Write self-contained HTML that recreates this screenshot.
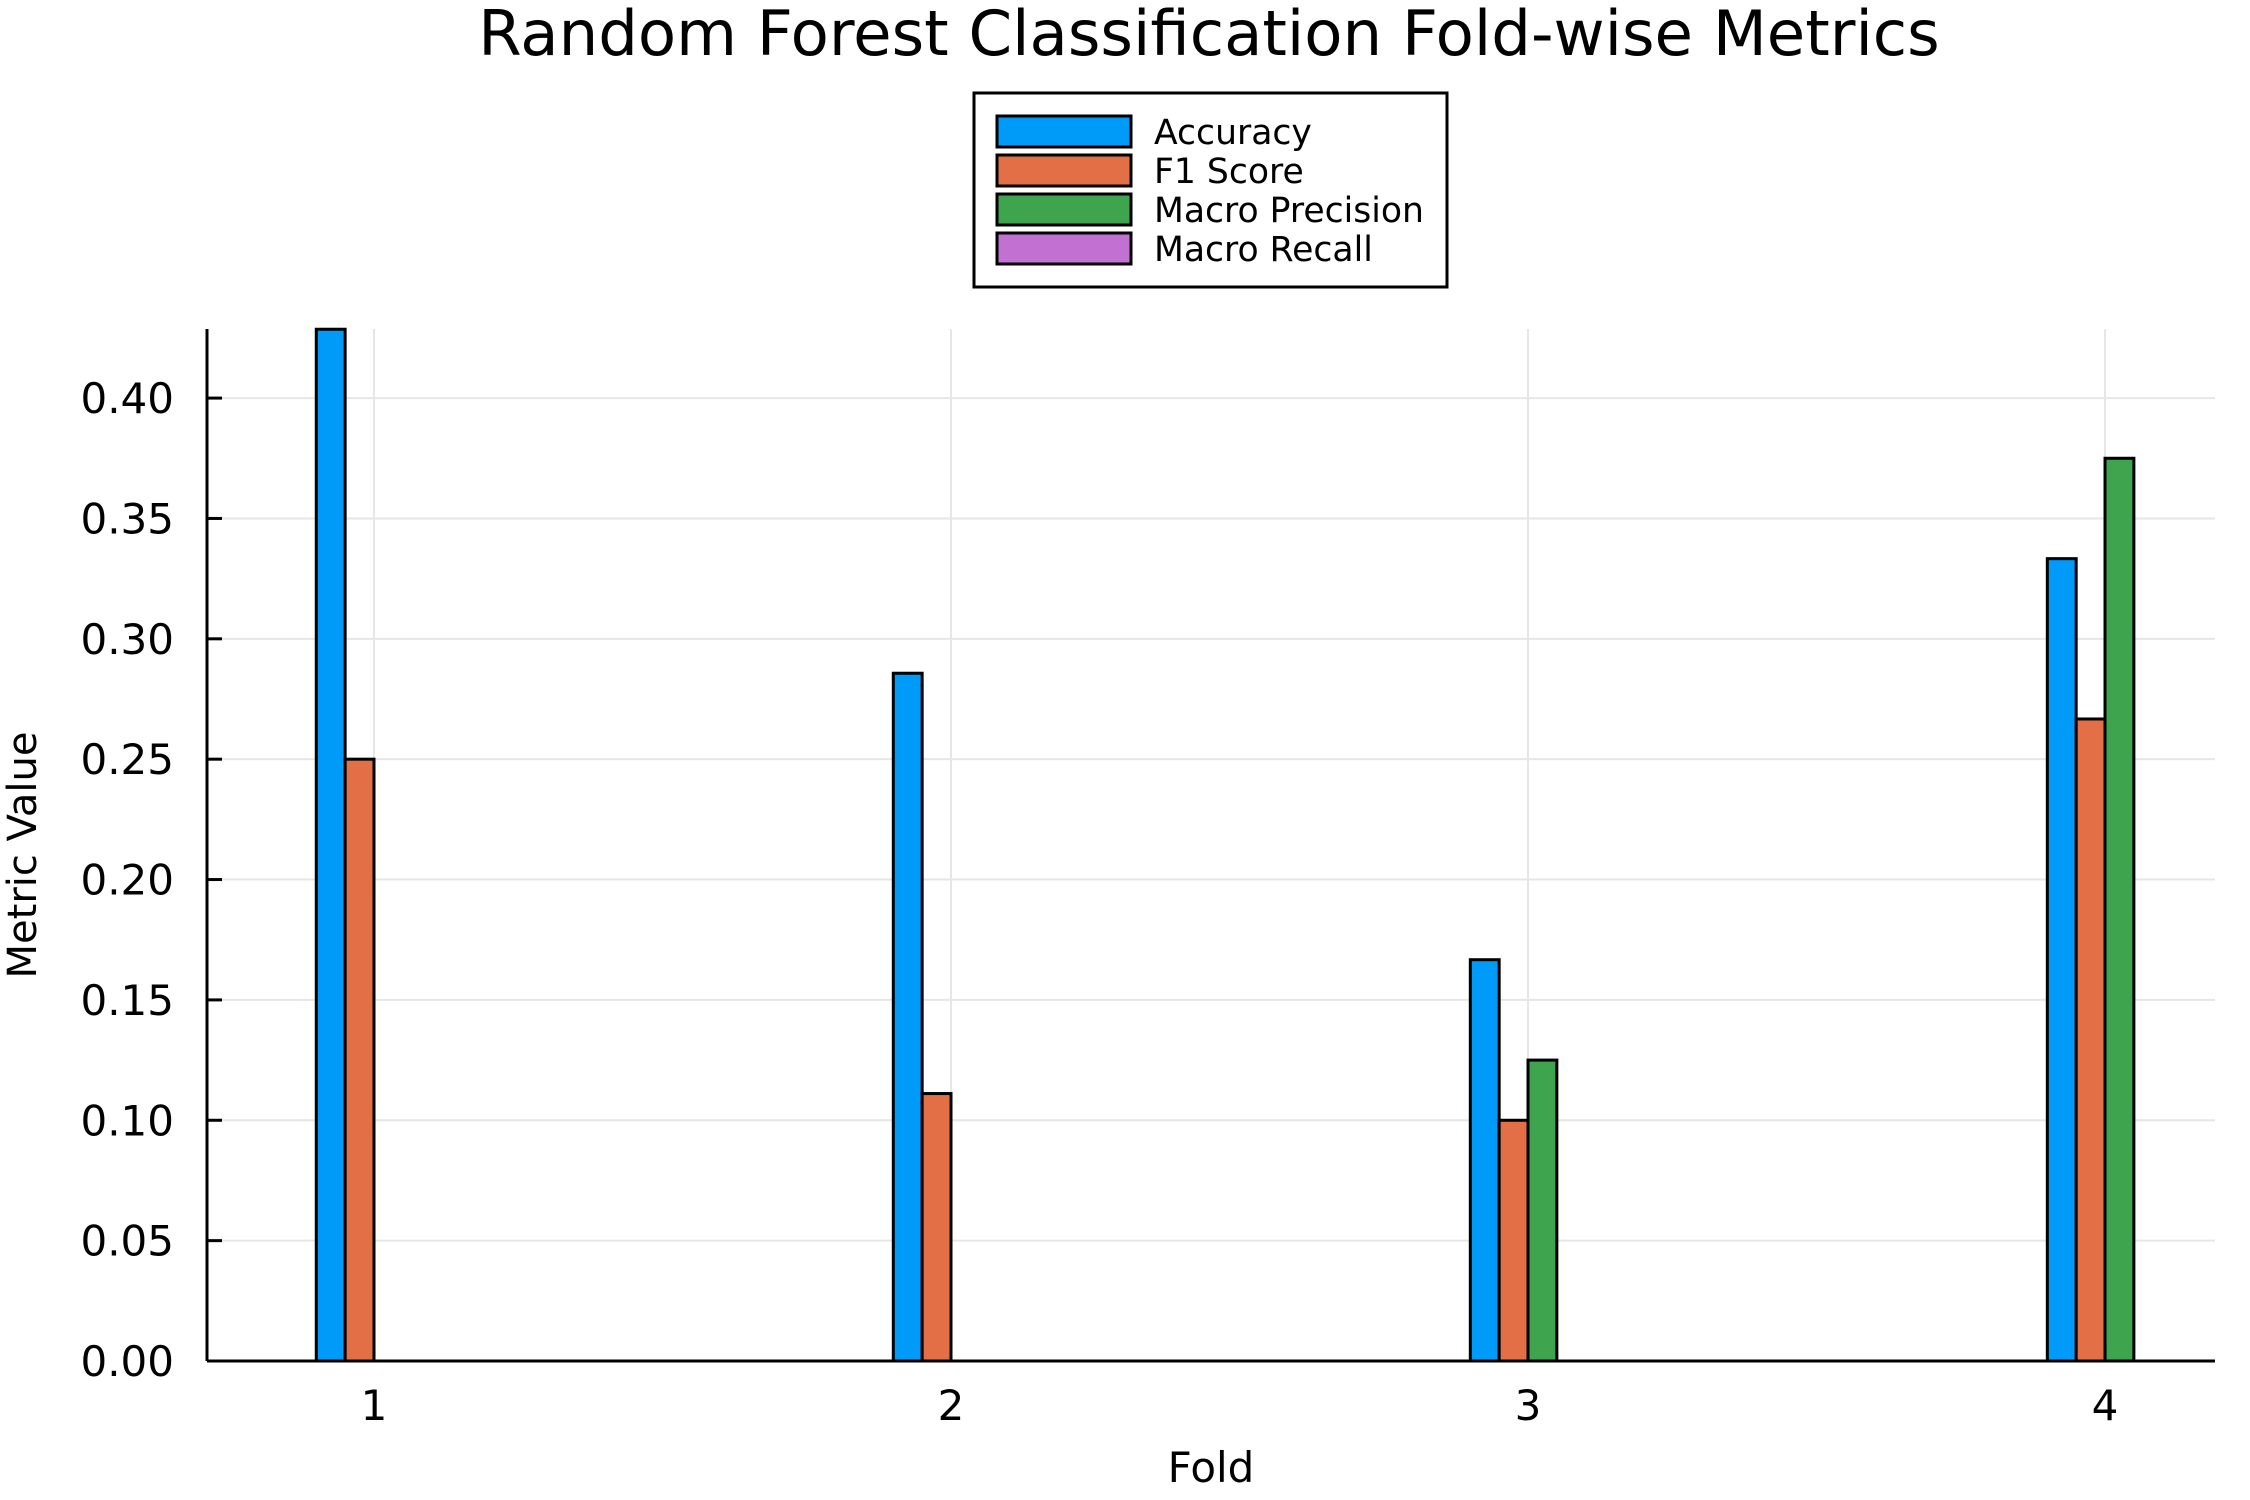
<!DOCTYPE html>
<html><head><meta charset="utf-8"><style>
html,body{margin:0;padding:0;background:#fff;}
svg{display:block;font-family:"DejaVu Sans","Liberation Sans",sans-serif;}
</style></head><body>
<svg id="chart" width="2250" height="1500" viewBox="0 0 2250 1500" xmlns="http://www.w3.org/2000/svg">
<rect width="2250" height="1500" fill="#fff"/>
<text x="1209" y="55" font-size="62.5" text-anchor="middle">Random Forest Classification Fold-wise Metrics</text>
<g id="grid"></g>
<g id="bars"></g>
<g id="axes"></g>
<text x="1211" y="1482" font-size="42" text-anchor="middle">Fold</text>
<text transform="translate(36,855) rotate(-90)" font-size="40" text-anchor="middle">Metric Value</text>
<g id="legend"></g>
</svg>
<script>
const folds = [1, 2, 3, 4];
const seriesNames = ["Accuracy", "F1 Score", "Macro Precision", "Macro Recall"];
const seriesColors = ["#009af9", "#e26f46", "#3ea44e", "#c271d2"];
const accuracy = [0.4286, 0.2857, 0.1667, 0.3333];
const f1Score = [0.25, 0.1111, 0.1, 0.2667];
const macroPrecision = [0, 0, 0.125, 0.375];
const macroRecall = [0, 0, 0, 0];
const yTicks = [0, 0.05, 0.10, 0.15, 0.20, 0.25, 0.30, 0.35, 0.40];
const yTickLabels = ["0.00","0.05","0.10","0.15","0.20","0.25","0.30","0.35","0.40"];

const NS = "http://www.w3.org/2000/svg";
const L = 207, R = 2215, T = 329, B = 1361;
const yMax = 0.4287;
const xMin = 0.7106, xMax = 4.1906;
function xs(v){ return L + (v - xMin) / (xMax - xMin) * (R - L); }
function ys(v){ return B - v / yMax * (B - T); }
function mk(tag, attrs, parent){
  const e = document.createElementNS(NS, tag);
  for (const k in attrs) e.setAttribute(k, attrs[k]);
  parent.appendChild(e); return e;
}
const grid = document.getElementById('grid');
const bars = document.getElementById('bars');
const axes = document.getElementById('axes');
const legend = document.getElementById('legend');

yTicks.forEach((t, i) => {
  const g = mk('line', {x1:L, x2:R, y1:ys(t), y2:ys(t), stroke:'#e6e6e6', 'stroke-width':2}, grid);
  
  
  const tk = mk('line', {x1:L, x2:L+15, y1:ys(t), y2:ys(t), stroke:'#000', 'stroke-width':3}, axes);
  
  
  const lb = mk('text', {x:174, y:ys(t)+15, 'font-size':42, 'text-anchor':'end'}, axes);
  lb.textContent = yTickLabels[i];
  
  
});
folds.forEach(f => {
  const g = mk('line', {x1:xs(f), x2:xs(f), y1:T, y2:B, stroke:'#e6e6e6', 'stroke-width':2}, grid);
  
  
  const tk = mk('line', {x1:xs(f), x2:xs(f), y1:B, y2:B-15, stroke:'#000', 'stroke-width':3}, axes);
  
  
  const lb = mk('text', {x:xs(f), y:1420, 'font-size':42, 'text-anchor':'middle'}, axes);
  lb.textContent = String(f);
  
  
});
const series = [accuracy, f1Score, macroPrecision, macroRecall];
const bw = 0.05 * (R - L) / (xMax - xMin);
series.forEach((vals, s) => {
  vals.forEach((v, i) => {
    const x0 = xs(folds[i]) + (s - 2) * bw;
    const y0 = ys(Math.min(v, yMax));
    const r = mk('rect', {x:x0, y:y0, width:bw, height:Math.max(B - y0, 0), fill:seriesColors[s], stroke:'#000', 'stroke-width':3}, bars);
    
    
  });
});
const ax1 = mk('line', {x1:L, x2:L, y1:T, y2:B, stroke:'#000', 'stroke-width':3}, axes);


const ax2 = mk('line', {x1:L, x2:R, y1:B, y2:B, stroke:'#000', 'stroke-width':3}, axes);



const box = mk('rect', {x:974, y:93, width:473, height:194, fill:'#fff', stroke:'#000', 'stroke-width':3}, legend);


seriesNames.forEach((n, i) => {
  const yy = 116 + i * 39;
  const sw = mk('rect', {x:997, y:yy, width:134, height:31, fill:seriesColors[i], stroke:'#000', 'stroke-width':3}, legend);
  
  
  const t = mk('text', {x:1154, y:yy+28, 'font-size':34.6}, legend);
  t.textContent = n;
  
  
});
</script>
</body></html>
